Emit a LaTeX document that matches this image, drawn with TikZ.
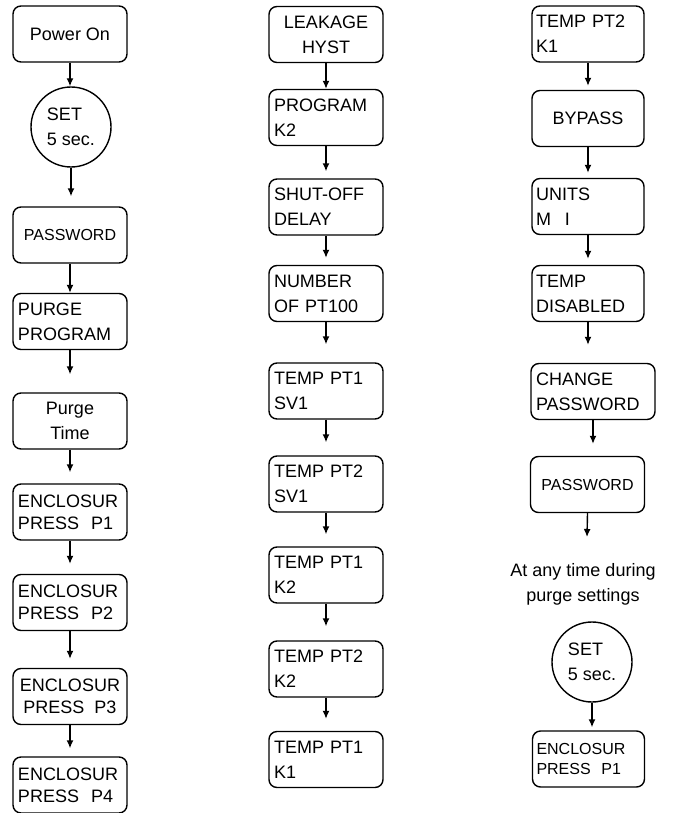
\documentclass[tikz,border=0pt]{standalone}
\usepackage{fontspec}
\setmainfont{Liberation Sans}
\usetikzlibrary{arrows.meta}
\begin{document}
\begin{tikzpicture}[x=0.5pt, y=-0.5pt, line width=0.7pt, >={Latex[length=4pt,width=3.5pt]}, font=\fontsize{9}{12.5}\selectfont]
	\tikzset{box/.style={draw, rounded corners=4pt, minimum width=57pt, minimum height=28pt, inner sep=2pt, align=center},
		lbox/.style={box, align=left, text width=52pt},
		setc/.style={draw, circle, minimum size=40pt, inner sep=0pt, align=left},
		enc/.style={font=\fontsize{9}{11}\selectfont},
		small/.style={font=\fontsize{8}{10}\selectfont}}
	\useasboundingbox (0,0) rectangle (675,813);
	% first column
	\node[box] (pon) at (70,34) {Power On};
	\node[setc] (set1) at (71,127) {SET\\5 sec.};
	\node[box, small] (pw1) at (70,235) {PASSWORD};
	\node[lbox] (purge) at (70,321.5) {PURGE\\PROGRAM};
	\node[box] (ptime) at (70,421) {Purge\\Time};
	\node[lbox, enc] (p1) at (70,512) {ENCLOSUR\\PRESS\ \ P1};
	\node[lbox, enc] (p2) at (70,602.5) {ENCLOSUR\\PRESS\ \ P2};
	\node[box, enc] (p3) at (70,696.5) {ENCLOSUR\\PRESS\ \ P3};
	\node[lbox, enc] (p4) at (70,785) {ENCLOSUR\\PRESS\ \ P4};
	% second column
	\node[box] (leak) at (326,34.5) {LEAKAGE\\HYST};
	\node[lbox] (prog) at (326,117.5) {PROGRAM\\K2};
	\node[lbox] (shut) at (326,207) {SHUT-OFF\\DELAY};
	\node[lbox] (num) at (326,293.5) {NUMBER\\OF PT100};
	\node[lbox] (t1sv) at (326,391) {TEMP PT1\\SV1};
	\node[lbox] (t2sv) at (326,484) {TEMP PT2\\SV1};
	\node[lbox] (t1k2) at (326,575) {TEMP PT1\\K2};
	\node[lbox] (t2k2) at (326,669) {TEMP PT2\\K2};
	\node[lbox] (t1k1) at (326,759.5) {TEMP PT1\\K1};
	% third column
	\node[lbox, minimum width=56pt] (t2k1) at (588,34) {TEMP PT2\\K1};
	\node[box, minimum width=56pt] (bypass) at (588,118.5) {BYPASS};
	\node[lbox, minimum width=56pt] (units) at (588,206.5) {UNITS\\M\hspace{7pt}I};
	\node[lbox, minimum width=56pt] (tdis) at (588,293.5) {TEMP\\DISABLED};
	\node[lbox, minimum width=62pt, text width=57pt] (chpw) at (593,391.5) {CHANGE\\PASSWORD};
	\node[box, small] (pw2) at (587.5,484.5) {PASSWORD};
	\coordinate (pwend) at (587,537);
	\node[align=center] (note) at (583,584) {At any time during\\purge settings};
	\node[setc] (set2) at (592,662) {SET\\5 sec.};
	\node[lbox, small, minimum width=56pt] (p1b) at (588.5,759) {ENCLOSUR\\PRESS\ \ P1};
	% arrows
	\foreach \a/\b/\g in {pon/set1/0, set1/pw1/5, pw1/purge/0, purge/ptime/9, ptime/p1/5.5, p1/p2/5, p2/p3/4.5, p3/p4/4,
		leak/prog/0, prog/shut/3.5, shut/num/3.5, num/t1sv/9, t1sv/t2sv/6.5, t2sv/t1k2/6, t1k2/t2k2/7, t2k2/t1k1/6,
		t2k1/bypass/2, bypass/units/2.5, units/tdis/3, tdis/chpw/9, chpw/pw2/6, set2/p1b/1.5}
		\draw[->, shorten >=\g pt] (\a.south) -- (\a.south |- \b.north);
	\draw[->] (pw2.south) -- (pwend);
\end{tikzpicture}
\end{document}
